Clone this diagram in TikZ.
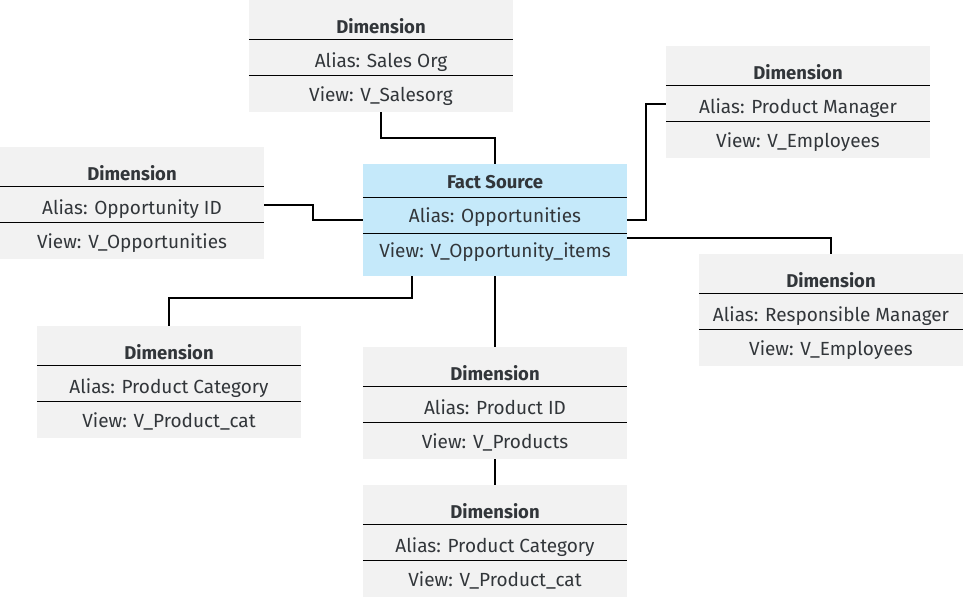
\documentclass[tikz,border=0pt]{standalone}
\usepackage{fontspec}
\setmainfont{Fira Sans}
\usepackage{tikz}
\definecolor{dimgray}{RGB}{242,242,242}
\definecolor{factblue}{RGB}{197,233,250}
\definecolor{textgray}{RGB}{50,54,58}
\tikzstyle{row}=[anchor=north, minimum width=264pt, inner sep=0pt, text=textgray, font=\fontsize{19}{22}\selectfont]
\tikzstyle{dimhead}=[row, fill=dimgray, minimum height=39pt, text height=33pt, text depth=6pt, font=\fontsize{18.5}{22}\selectfont\bfseries]
\tikzstyle{dimalias}=[row, fill=dimgray, minimum height=36pt, text height=26pt, text depth=6pt]
\tikzstyle{dimview}=[row, fill=dimgray, minimum height=36pt, text height=20pt, text depth=6pt]
\tikzstyle{facthead}=[row, fill=factblue, minimum height=33pt, text height=21pt, text depth=6pt, font=\fontsize{18.5}{22}\selectfont\bfseries]
\tikzstyle{factalias}=[row, fill=factblue, minimum height=36pt, text height=20pt, text depth=6pt]
\tikzstyle{factview}=[row, fill=factblue, minimum height=42pt, text height=10pt, text depth=6pt]
\tikzstyle{sep}=[line width=1pt]
\tikzstyle{link}=[line width=2pt]

\begin{document}
\begin{tikzpicture}[x=1pt,y=-1pt]
   \useasboundingbox (0,0) rectangle (965,602);
   % fact source
   \node[facthead] (fact-h) at (495,164) {Fact Source};
   \node[factalias] (fact-a) at (fact-h.south) {Alias: Opportunities};
   \node[factview] (fact-v) at (fact-a.south) {View: V\_Opportunity\_items};
   % dimensions
   \node[dimhead] (so-h) at (381,0) {Dimension};
   \node[dimalias] (so-a) at (so-h.south) {Alias: Sales Org};
   \node[dimview] (so-v) at (so-a.south) {View: V\_Salesorg};
   \node[dimhead] (pm-h) at (798,46) {Dimension};
   \node[dimalias] (pm-a) at (pm-h.south) {Alias: Product Manager};
   \node[dimview] (pm-v) at (pm-a.south) {View: V\_Employees};
   \node[dimhead] (op-h) at (132,147) {Dimension};
   \node[dimalias] (op-a) at (op-h.south) {Alias: Opportunity ID};
   \node[dimview] (op-v) at (op-a.south) {View: V\_Opportunities};
   \node[dimhead] (rm-h) at (831,254) {Dimension};
   \node[dimalias] (rm-a) at (rm-h.south) {Alias: Responsible Manager};
   \node[dimview] (rm-v) at (rm-a.south) {View: V\_Employees};
   \node[dimhead] (pcl-h) at (169,326) {Dimension};
   \node[dimalias] (pcl-a) at (pcl-h.south) {Alias: Product Category};
   \node[dimview] (pcl-v) at (pcl-a.south) {View: V\_Product\_cat};
   \node[dimhead] (pid-h) at (495,347) {Dimension};
   \node[dimalias] (pid-a) at (pid-h.south) {Alias: Product ID};
   \node[dimview] (pid-v) at (pid-a.south) {View: V\_Products};
   \node[dimhead] (pcb-h) at (495,485) {Dimension};
   \node[dimalias] (pcb-a) at (pcb-h.south) {Alias: Product Category};
   \node[dimview] (pcb-v) at (pcb-a.south) {View: V\_Product\_cat};

   % row separators
   \draw[sep] (fact-h.south west) -- (fact-h.south east) (fact-a.south west) -- (fact-a.south east);
   \draw[sep] (so-h.south west) -- (so-h.south east) (so-a.south west) -- (so-a.south east);
   \draw[sep] (pm-h.south west) -- (pm-h.south east) (pm-a.south west) -- (pm-a.south east);
   \draw[sep] (op-h.south west) -- (op-h.south east) (op-a.south west) -- (op-a.south east);
   \draw[sep] (rm-h.south west) -- (rm-h.south east) (rm-a.south west) -- (rm-a.south east);
   \draw[sep] (pcl-h.south west) -- (pcl-h.south east) (pcl-a.south west) -- (pcl-a.south east);
   \draw[sep] (pid-h.south west) -- (pid-h.south east) (pid-a.south west) -- (pid-a.south east);
   \draw[sep] (pcb-h.south west) -- (pcb-h.south east) (pcb-a.south west) -- (pcb-a.south east);

   % joins
   \draw[link] (so-v.south) -- ++(0,26) -| (fact-h.north);
   \draw[link] (op-a.east) -- ++(49,0) |- ([yshift=-4pt]fact-a.west);
   \draw[link] ([yshift=-4pt]fact-a.east) -- ++(19,0) |- (pm-a.west);
   \draw[link] ([yshift=-4pt]fact-v.north east) -| (rm-h.north);
   \draw[link] ([xshift=-83pt]fact-v.south) -- ++(0,22) -| (pcl-h.north);
   \draw[link] (fact-v.south) -- (pid-h.north);
   \draw[link] (pid-v.south) -- (pcb-h.north);
\end{tikzpicture}
\end{document}
